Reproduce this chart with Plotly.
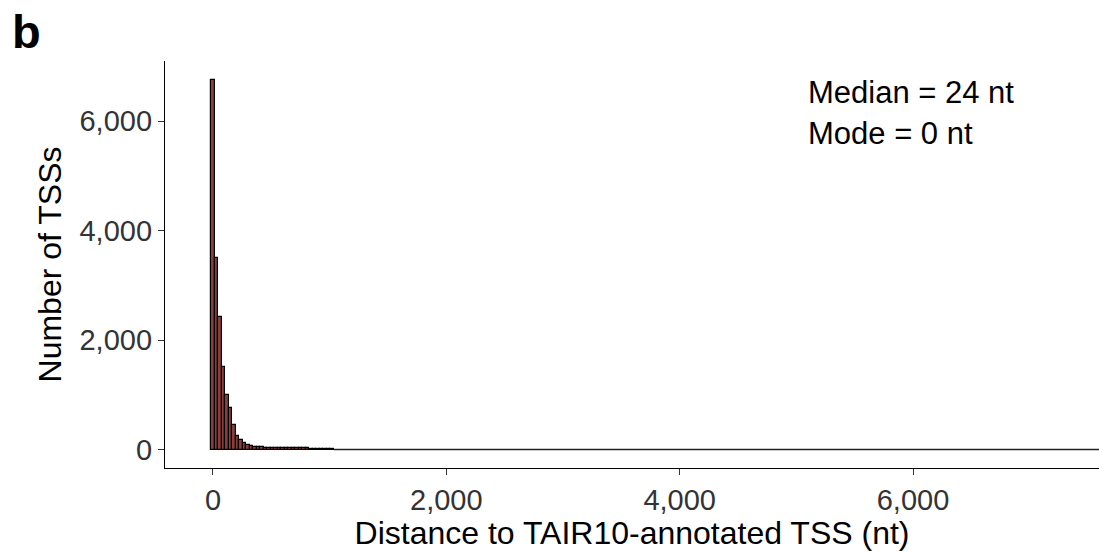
import plotly.graph_objects as go

# Histogram of distances (nt) between observed TSSs and TAIR10-annotated TSSs
BIN_WIDTH = 30
bin_centers = [0, 30, 60, 90, 120, 150, 180, 210, 240, 270, 300, 330, 360, 390,
               420, 450, 480, 510, 540, 570, 600, 630, 660, 690, 720, 750, 780,
               810, 840, 870, 900, 930, 960, 990, 1020]
tss_counts = [6760, 3495, 2430, 1515, 995, 755, 445, 245, 170, 110, 80, 62, 52, 45,
              40, 36, 33, 31, 29, 27, 26, 25, 24, 23, 22, 21, 20,
              19, 18, 18, 17, 16, 16, 15, 14]
# empty bins out to the longest distance observed
empty_bin_edges = [1035, 7620]
empty_counts = [0, 0]

x_ticks = [0, 2000, 4000, 6000]
y_ticks = [0, 2000, 4000, 6000]

stats_lines = ["Median = 24 nt", "Mode = 0 nt"]

FONT = "Liberation Sans, Arial, sans-serif"

fig = go.Figure()
fig.add_trace(go.Bar(
    x=bin_centers, y=tss_counts, width=BIN_WIDTH,
    marker=dict(color="#8B3E3E", line=dict(color="black", width=1.2)),
    showlegend=False,
))
fig.add_trace(go.Scatter(
    x=empty_bin_edges, y=empty_counts, mode="lines",
    line=dict(color="#222222", width=1.3), showlegend=False, hoverinfo="skip",
))

fig.update_layout(
    width=1099, height=551,
    margin=dict(l=165, r=0, t=61, b=83, autoexpand=False),
    paper_bgcolor="white", plot_bgcolor="white",
    bargap=0,
    font=dict(family=FONT, color="black"),
    xaxis=dict(
        range=[-411, 7594], tickvals=x_ticks, tickformat=",",
        showline=True, linecolor="black", linewidth=1.3,
        ticks="outside", ticklen=6, tickwidth=1.2, tickcolor="#333333",
        showgrid=False, zeroline=False,
        tickfont=dict(size=29, color="#333333", family=FONT),
        title=dict(text="Distance to TAIR10-annotated TSS (nt)",
                   font=dict(size=32, color="black", family=FONT), standoff=6),
        automargin=False,
    ),
    yaxis=dict(
        range=[-338, 7102], tickvals=y_ticks, tickformat=",",
        showline=True, linecolor="black", linewidth=1.3,
        ticks="outside", ticklen=6, tickwidth=1.2, tickcolor="#333333",
        showgrid=False, zeroline=False,
        tickfont=dict(size=29, color="#333333", family=FONT),
        title=dict(text="Number of TSSs",
                   font=dict(size=32, color="black", family=FONT), standoff=8),
        automargin=False,
    ),
)

# summary statistics, top-right of the panel
for i, line in enumerate(stats_lines):
    fig.add_annotation(
        text=line, xref="paper", yref="paper",
        x=(806 - 165) / (1099 - 165), y=1 - (12 + i * 41) / 407,
        xanchor="left", yanchor="top", showarrow=False,
        font=dict(size=31, color="black", family=FONT),
    )

# panel letter
fig.add_annotation(
    text="<b>b</b>", xref="paper", yref="paper",
    x=-155 / 934, y=1 + 58 / 407, xanchor="left", yanchor="top",
    showarrow=False, font=dict(size=47, color="black", family=FONT),
)

fig.write_html("out.html")
